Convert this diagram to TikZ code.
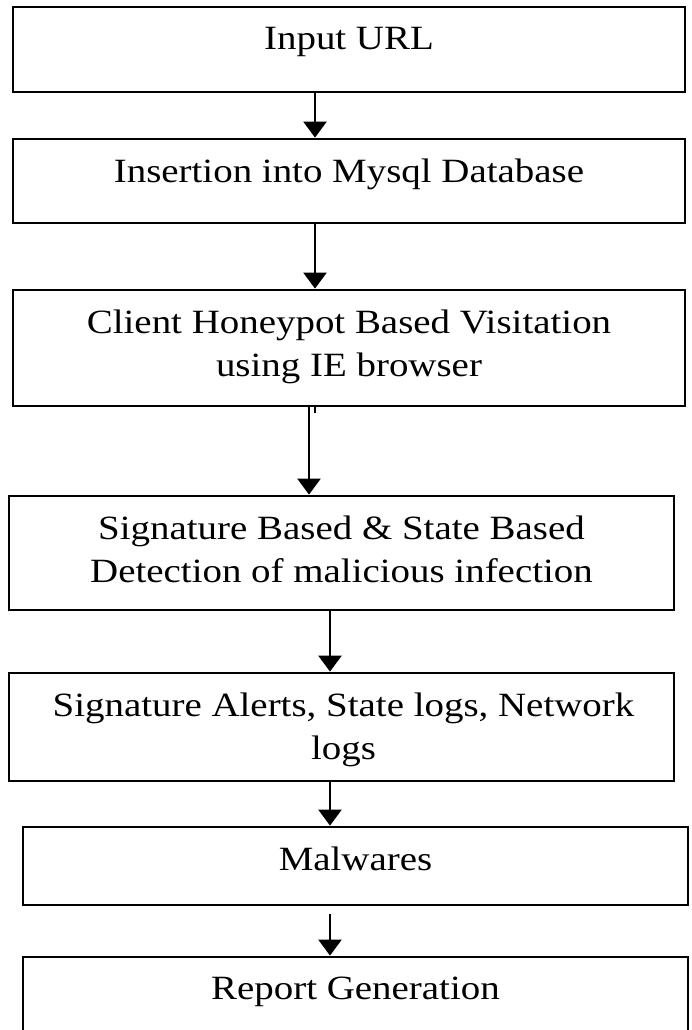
\documentclass[tikz,border=0pt]{standalone}
\usepackage{fontspec}
\setmainfont[FakeStretch=1.145]{Liberation Serif}
\usetikzlibrary{positioning,arrows.meta}

\begin{document}
\begin{tikzpicture}[x=0.5pt,y=-0.5pt,font=\fontsize{17}{21.5}\selectfont,
  kasten/.style={draw,line width=1.4pt,inner sep=0pt,minimum width=336pt},
  aufschrift/.style={anchor=north,inner sep=0pt,align=center},
  pfeil/.style={line width=1.3pt,-{Triangle[length=8pt,width=11.5pt]}}]
  \useasboundingbox (0,0) rectangle (692,1030);
  \node[kasten,minimum height=42.5pt] (b1) at (349,49.5) {};
  \node[kasten,minimum height=42pt] (b2) at (349,181) {};
  \node[kasten,minimum height=58pt] (b3) at (349,348) {};
  \node[kasten,minimum width=332.5pt,minimum height=57pt] (b4) at (341.5,553) {};
  \node[kasten,minimum width=332.5pt,minimum height=54pt] (b5) at (341.5,727) {};
  \node[kasten,minimum width=332.5pt,minimum height=39pt] (b6) at (355.5,866) {};
  \node[kasten,minimum width=332.5pt,minimum height=51.5pt] (b7) at (355.5,1008.5) {};
  \node[aufschrift] (t1) at ([yshift=-10.5pt]b1.north) {Input URL};
  \node[aufschrift] (t2) at ([yshift=-10.5pt]b2.north) {Insertion into Mysql Database};
  \node[aufschrift] (t3) at ([yshift=-10.5pt]b3.north) {Client Honeypot Based Visitation\\using IE browser};
  \node[aufschrift] (t4) at ([yshift=-10.5pt]b4.north) {Signature Based \& State Based\\Detection of malicious infection};
  \node[aufschrift] (t5) at ([yshift=-10.5pt,xshift=1pt]b5.north) {Signature Alerts, State logs, Network\\logs};
  \node[aufschrift] (t6) at ([yshift=-10.5pt]b6.north) {Malwares};
  \node[aufschrift] (t7) at ([yshift=-10.5pt]b7.north) {Report Generation};
  % Spalten der Pfeile
  \coordinate (sa) at (315,0);
  \coordinate (sb) at (309,0);
  \coordinate (sc) at (330,0);
  \foreach \a/\b/\s in {b1/b2/sa,b2/b3/sa,b3/b4/sb,b4/b5/sc,b5/b6/sc}
    \draw[pfeil] (\a.south -| \s) -- (\b.north -| \s);
  \draw[pfeil,shorten <=4pt] (b6.south -| sc) -- (b7.north -| sc);
  \draw[line width=1.3pt] (b3.south -| sa) -- ++(0,6);
\end{tikzpicture}
\end{document}
